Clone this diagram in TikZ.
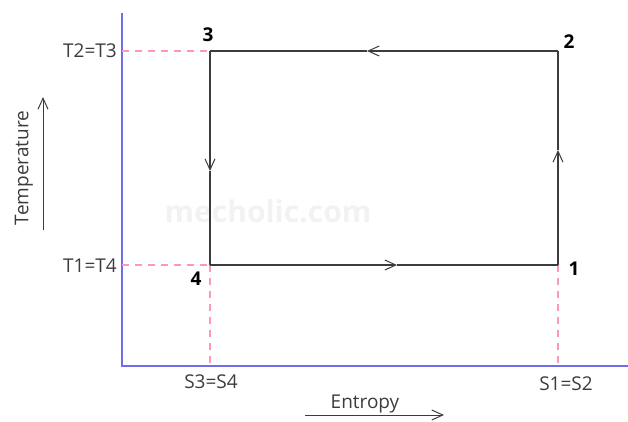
\documentclass[tikz,border=0pt]{standalone}
\usepackage{fontspec}
\setmainfont{Open Sans}
\usetikzlibrary{arrows.meta}
\definecolor{axisblue}{RGB}{110,110,235}
\definecolor{guidepink}{RGB}{255,150,190}
\definecolor{edgegray}{RGB}{60,60,60}
\definecolor{textgray}{RGB}{60,60,60}
\tikzset{
  axisline/.style={draw=axisblue, line width=1.3pt},
  guide/.style={draw=guidepink, line width=1.1pt, dash pattern=on 7pt off 6pt},
  edge/.style={draw=edgegray, line width=1.2pt},
  barb/.style={-{Straight Barb[length=11pt,width=10pt,line width=1pt]}},
  lbl/.style={font=\fontsize{19}{22}\selectfont, text=textgray, inner sep=0pt},
  ptlbl/.style={font=\fontsize{19}{22}\selectfont\bfseries, text=black, inner sep=0pt},
}
\begin{document}
\begin{tikzpicture}[x=1pt,y=-1pt]
\useasboundingbox (0,0) rectangle (628,421);
% watermark
\node[font=\fontsize{30}{34}\selectfont\bfseries, text=black!5] (wm) at (268,211) {mecholic.com};
% axes
\coordinate (ytop) at (122,13);
\coordinate (orig) at (122,366);
\coordinate (xend) at (628,366);
\draw[axisline] (ytop) -- (orig) -- (xend);
% state points
\coordinate (p1) at (558,265);
\coordinate (p2) at (558,51);
\coordinate (p3) at (210,51);
\coordinate (p4) at (210,265);
\coordinate (t23) at (122,51);
\coordinate (t14) at (122,265);
\coordinate (s34) at (210,366);
\coordinate (s12) at (558,366);
% guides
\draw[guide] (t23) -- (p3);
\draw[guide] (t14) -- (p4);
\draw[guide] (p4) -- (s34);
\draw[guide] (p1) -- (s12);
% cycle edges with mid arrows
\coordinate (m12) at (558,150);
\coordinate (m23) at (367,51);
\coordinate (m34) at (210,171);
\coordinate (m41) at (397,265);
\draw[edge,barb] (p1) -- (m12);
\draw[edge] (m12) -- (p2);
\draw[edge,barb] (p2) -- (m23);
\draw[edge] (m23) -- (p3);
\draw[edge,barb] (p3) -- (m34);
\draw[edge] (m34) -- (p4);
\draw[edge,barb] (p4) -- (m41);
\draw[edge] (m41) -- (p1);
% point labels
\node[ptlbl] (n3) at (208,35) {3};
\node[ptlbl] (n2) at (569,42) {2};
\node[ptlbl] (n1) at (574,269) {1};
\node[ptlbl] (n4) at (196,279) {4};
% axis value labels
\node[lbl, anchor=east] (lt23) at (117,51) {T2=T3};
\node[lbl, anchor=east] (lt14) at (117,266) {T1=T4};
\node[lbl] (ls34) at (211,382) {S3=S4};
\node[lbl] (ls12) at (566,384) {S1=S2};
% axis titles
\node[lbl, rotate=90] (temp) at (24,168) {Temperature};
\node[lbl] (ent) at (365,404) {Entropy};
\coordinate (ta0) at (43,230);
\coordinate (ta1) at (43,97);
\draw[edgegray, line width=1pt, barb] (ta0) -- (ta1);
\coordinate (ea0) at (305,415);
\coordinate (ea1) at (444,415);
\draw[edgegray, line width=1pt, barb] (ea0) -- (ea1);
\end{tikzpicture}
\end{document}
